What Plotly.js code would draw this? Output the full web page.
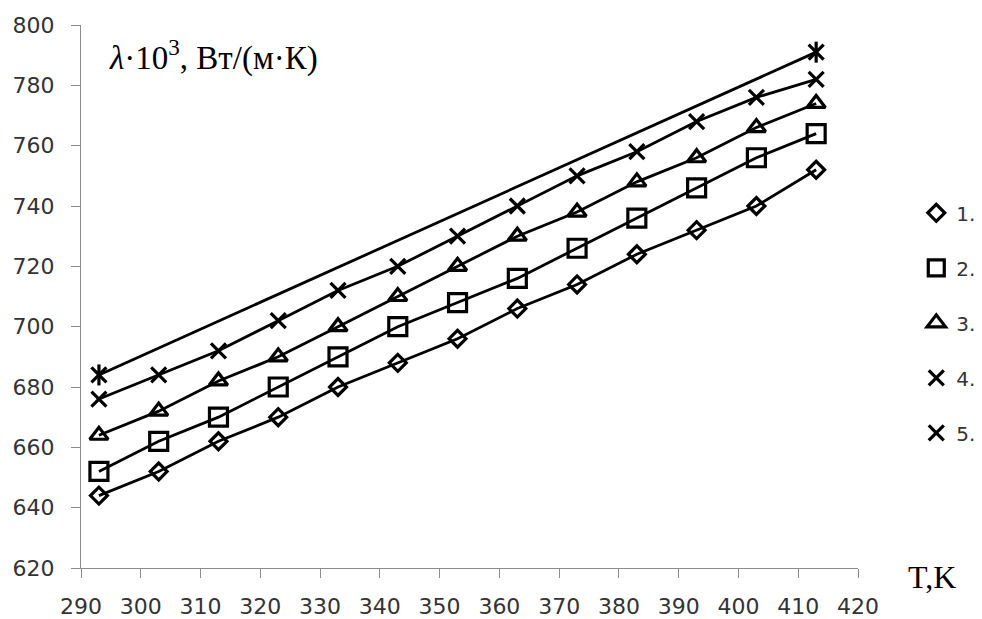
<!DOCTYPE html>
<html>
<head>
<meta charset="utf-8">
<script src="https://cdn.plot.ly/plotly-3.0.1.min.js"></script>
<style>html,body{margin:0;padding:0;background:#fff;}#chart{width:982px;height:619px;}</style>
</head>
<body>
<div id="chart"></div>
<script>
// Data
const T = [293, 303, 313, 323, 333, 343, 353, 363, 373, 383, 393, 403, 413];
const series1 = [644, 652, 662, 670, 680, 688, 696, 706, 714, 724, 732, 740, 752];
const series2 = [652, 662, 670, 680, 690, 700, 708, 716, 726, 736, 746, 756, 764];
const series3 = [664, 672, 682, 690, 700, 710, 720, 730, 738, 748, 756, 766, 774];
const series4 = [676, 684, 692, 702, 712, 720, 730, 740, 750, 758, 768, 776, 782];
const series5 = [684, null, null, null, null, null, null, null, null, null, null, null, 791];
const names = ['1.', '2.', '3.', '4.', '5.'];
const xTicks = [290, 300, 310, 320, 330, 340, 350, 360, 370, 380, 390, 400, 410, 420];
const yTicks = [620, 640, 660, 680, 700, 720, 740, 760, 780, 800];

const allSeries = [series1, series2, series3, series4, series5];
const symbols = ['diamond-open', 'square-open', 'triangle-up-open', 'x-thin-open', 'x-thin-open'];
const sizes = [13, 18, 16, 15, 15];

const traces = [];
allSeries.forEach((s, i) => {
  traces.push({
    x: T, y: s, mode: 'lines', connectgaps: true, showlegend: false,
    line: {color: '#000', width: 2.8}, hoverinfo: 'skip'
  });
});
allSeries.forEach((s, i) => {
  traces.push({
    x: T, y: s, mode: 'markers', name: names[i], legendgroup: 'g' + i,
    marker: {symbol: symbols[i], size: sizes[i], color: '#000', line: {color: '#000', width: 3.2}}
  });
});
// vertical arm of the star marker for series 5
traces.push({
  x: T, y: series5, mode: 'markers', showlegend: false, legendgroup: 'g4',
  marker: {symbol: 'line-ns-open', size: 15, color: '#000', line: {color: '#000', width: 3.2}}
});

const axisCommon = {
  showgrid: false, zeroline: false, showline: true, linecolor: '#8c8c8c', linewidth: 1,
  ticks: 'outside', ticklen: 9, tickcolor: '#8c8c8c', tickwidth: 1,
  tickfont: {family: 'DejaVu Sans', size: 22, color: '#333'}, fixedrange: true
};

const layout = {
  width: 982, height: 619,
  margin: {l: 81, r: 124, t: 25, b: 51, autoexpand: false},
  paper_bgcolor: '#fff', plot_bgcolor: '#fff',
  xaxis: Object.assign({}, axisCommon, {range: [290, 420], tickvals: xTicks, ticktext: xTicks.map(String), ticklabelstandoff: 10}),
  yaxis: Object.assign({}, axisCommon, {range: [620, 800], tickvals: yTicks, ticktext: yTicks.map(String), ticklabelstandoff: 12}),
  showlegend: true,
  legend: {
    x: 1.075, y: 0.69, xanchor: 'left', yanchor: 'top',
    traceorder: 'grouped', tracegroupgap: 26,
    font: {family: 'DejaVu Sans', size: 20, color: '#333'},
    itemwidth: 30, bgcolor: 'rgba(0,0,0,0)'
  },
  annotations: [
    {xref: 'paper', yref: 'paper', x: 0.033, y: 0.943, xanchor: 'left', yanchor: 'middle',
     text: '<i>λ</i>·10<sup>3</sup>, Вт/(м·К)', showarrow: false,
     font: {family: 'Liberation Serif, Times New Roman, serif', size: 33, color: '#000'}},
    {xref: 'paper', yref: 'paper', x: 1.062, y: -0.017, xanchor: 'left', yanchor: 'middle',
     text: 'T,K', showarrow: false,
     font: {family: 'Liberation Serif, Times New Roman, serif', size: 32, color: '#000'}}
  ]
};

Plotly.newPlot('chart', traces, layout, {displayModeBar: false, staticPlot: true});
</script>
</body>
</html>
